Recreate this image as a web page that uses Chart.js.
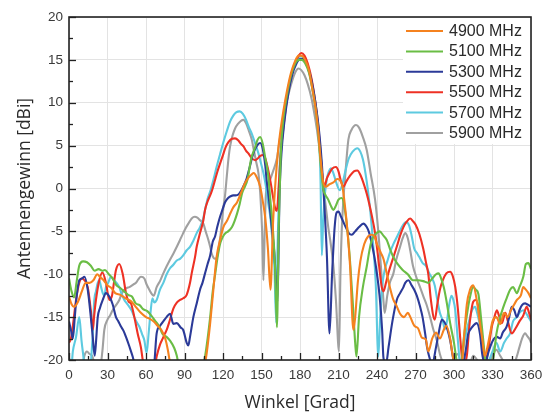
<!DOCTYPE html>
<html><head><meta charset="utf-8">
<script src="https://cdn.jsdelivr.net/npm/chart.js@4.4.1/dist/chart.umd.min.js"></script>
<style>html,body{margin:0;padding:0;background:#fff;}canvas{display:block;}</style>
</head><body>
<canvas id="c" width="552" height="417"></canvas>
<script>
// ---- data (angle [deg], gain [dBi]) ----
const seriesLabels = ['4900 MHz', '5100 MHz', '5300 MHz', '5500 MHz', '5700 MHz', '5900 MHz'];
const seriesColors = ['#f5821f', '#6abd45', '#2b3a98', '#ee3124', '#5dcae0', '#a0a0a0'];
const xTickValues = [0, 30, 60, 90, 120, 150, 180, 210, 240, 270, 300, 330, 360];
const yTickValues = [-20, -15, -10, -5, 0, 5, 10, 15, 20];

const s4900 = [[0,-12.6],[2,-13.5],[4,-13.8],[7,-13.2],[10,-12],[13,-11],[16,-11],[19,-10.7],[22,-10],[24,-10.3],[27,-10.7],[30,-11.3],[33,-11.6],[36,-12.2],[40,-12.4],[44,-12.8],[48,-13.1],[52,-13.8],[56,-14.5],[60,-15],[63,-15.2],[66,-15.5],[69,-16],[72,-16.5],[75,-17.5],[77,-18.8],[79,-20.5],[85,-22],[100,-22],[105,-21],[107.3,-19.2],[110,-15.7],[112.5,-11.8],[115,-8],[117.7,-6],[120.3,-4.5],[123,-3.8],[126,-2.8],[128,-2.2],[131,-1.6],[134,-0.5],[137,0.6],[140,1.3],[142,1.6],[144,1.8],[146,1.4],[149,0.2],[151,-1.5],[153,-3.5],[155,-7],[157,-11.8],[159,-4],[161,1],[163,4.5],[165,7],[167,9],[170,11.5],[173,13.5],[176,14.8],[179,15.5],[181,15.5],[184,15],[187,13.8],[190,11.3],[192,9.5],[194,7],[196,3.5],[198,0.8],[200,0.2],[203,0.5],[206,0.7],[209,1.1],[211,1.0],[213,0.3],[215,-2],[217,-5],[219,-9],[221.6,-16.5],[223,-15],[225,-11],[227,-8.5],[230,-6.5],[233,-5.6],[236,-5.4],[238,-5.6],[240,-6.5],[243,-7.5],[245,-8.2],[247.6,-9.9],[250,-11.5],[252.8,-13],[255,-13.6],[258,-14.6],[261,-15],[264,-14.5],[266,-15],[269,-16],[272,-16.3],[275,-17.4],[278,-17.6],[280,-19],[283,-17.5],[286,-16.8],[289,-17.5],[292,-16.5],[294,-16],[297,-17.5],[299,-19.5],[302,-21],[306,-20.5],[308,-17],[310,-13.5],[312.5,-11.8],[315,-11.3],[317.7,-13],[320,-15.5],[322,-17.5],[324,-19.5],[326,-18.5],[328,-17],[330,-15.5],[333,-15],[336,-15.8],[339,-14.5],[342,-15],[344,-14.3],[347,-13.5],[349,-13],[352,-12.5],[354,-11.5],[356,-11.8],[358,-12.2],[360,-12.8]];

const s5100 = [[0,-10.5],[2,-12],[4,-12.7],[6,-10.8],[8,-9],[11,-8.5],[14,-8.6],[17,-9],[20,-9.6],[23,-9.4],[26,-9.6],[28,-9.5],[31,-10],[34,-10.5],[37,-11.3],[40,-11.6],[43,-12],[46,-12.4],[49,-12.6],[52,-13.4],[55,-13.6],[58,-14.1],[61,-14.3],[64,-14.8],[67,-15.4],[70,-16],[73,-17],[76,-17.3],[79,-17.8],[82,-18.6],[84,-19.5],[86,-21],[95,-22],[104,-21],[106,-19.6],[108,-17.5],[110,-15],[112,-12],[114,-9.9],[116,-7.8],[118,-6.3],[120,-5.6],[122,-5.2],[124,-5],[127,-4.5],[129,-3.8],[131,-2.9],[133,-1.8],[135,-0.5],[137,0.2],[139,1],[142,3.5],[145,4.8],[147,5.7],[149,6],[151,5.2],[153,3.5],[155,1.8],[157,-1.5],[159,-5],[160.5,-9],[162,-16.2],[163.5,-4],[165,4],[167,8],[170,11],[173,13.2],[176,14.5],[179,15],[181.5,15],[184,14.6],[187,13.5],[190,11.3],[192,9.5],[194,6.8],[196,3],[198,0],[200,-0.8],[202,-1.3],[204,-2],[206,-2.5],[208,-2],[210,-1.3],[212.5,-1.1],[215,-2.5],[217,-5],[219,-8.5],[221,-13],[223,-18],[224,-19.6],[226,-15],[229,-11.5],[232,-9.1],[234,-7.3],[236,-6],[239,-5.3],[242,-5],[245,-5.5],[247.6,-6],[250,-7],[252.8,-8],[256,-8.8],[260,-9.5],[264,-10],[268,-10.7],[272,-10.7],[276,-10.8],[280,-11],[283,-10.5],[286,-10],[288,-9.9],[290,-10.5],[292,-11.5],[294,-13],[297,-15.7],[300,-18],[302,-20],[305,-21],[308,-17],[310,-14.8],[312,-13],[315,-11.5],[317,-11.8],[319,-12.3],[321,-15],[323,-18],[325,-20.5],[328,-20.5],[331,-19.5],[333,-17],[336,-15],[338.5,-13.8],[341,-12.8],[343.7,-11.8],[346,-11.5],[349,-12.2],[351,-11.5],[354,-10.3],[356,-8.8],[358,-8.7],[360,-9.4]];

const s5300 = [[0,-15.5],[1.5,-16.5],[3,-17.5],[4.5,-15],[6,-12.5],[8,-10.7],[10,-10.5],[12,-10.3],[14.6,-11.8],[17,-15],[18.5,-17.3],[20,-19.5],[21,-18],[22.4,-15],[24,-14],[26.3,-13],[28.8,-12.2],[31.4,-12.6],[34,-13.5],[36.6,-15],[38.5,-15.5],[40.5,-16.1],[42.5,-16.6],[44.4,-17.3],[47,-18.4],[49.6,-19.6],[52,-21],[60,-22],[66,-21],[68.3,-16.9],[71,-16],[73.5,-15.5],[76,-15],[78.7,-14.6],[81.3,-15.8],[84,-15.7],[87,-16.2],[89,-16.5],[91.7,-18],[93,-18.3],[94.3,-17.3],[96.9,-15],[99.5,-13.4],[102.1,-11.8],[104,-11],[106,-9.9],[108,-8.8],[110,-7.8],[112,-6.2],[113.8,-5.6],[115.5,-4.5],[117.7,-3.3],[119.5,-2.5],[121.6,-1.6],[124,-1.1],[126,-0.9],[128,-0.8],[130,-0.8],[132,-0.7],[134,-0.3],[136,0.3],[138.5,1.2],[141,2.6],[143,3.8],[145,4.6],[147,5.1],[149,5.3],[151,4.6],[153,2.6],[154,1],[156,-1.5],[158,-4.5],[160,-7.5],[162.5,-13.2],[164,-1],[165.5,4],[168,8],[171,11.2],[174,13.3],[177,14.5],[180,15.1],[182,15.1],[185,14.5],[188,13.2],[191,11],[193,9],[195,6.5],[197,3],[199,-2],[201,-8],[203,-16.9],[205,-10],[207,-4.5],[208.5,-2.8],[210,-2.7],[212,-3.3],[215,-4.3],[218,-5.2],[220.3,-5.4],[223,-5],[226,-4.5],[229.4,-4.1],[232,-4.5],[234,-5.2],[236,-6.5],[238,-8],[240,-10],[242,-12.5],[244,-16.5],[245,-19.7],[247,-20.5],[249,-18.5],[252,-15.5],[255.4,-13],[258,-12.2],[260.6,-11.5],[262,-11],[264.5,-10.7],[267,-11.3],[269,-11.8],[271,-12.5],[273.6,-13.8],[275.5,-15],[277.5,-16.9],[279,-18.5],[280.5,-19.5],[283,-20.5],[286,-18.5],[288,-16.9],[290.5,-15.3],[293,-15.7],[295,-16.5],[297,-17.7],[299,-19.5],[301,-21],[306,-21],[309,-19],[311,-17],[312.5,-16.5],[315,-16],[317.7,-15.7],[320.3,-17],[322,-19.3],[324,-20.5],[327,-19],[330,-17.8],[333.4,-17.3],[336,-17.5],[338,-16.8],[341,-16.1],[343,-15],[345,-13.8],[347,-14.2],[349,-15],[351,-14.2],[353,-13.6],[355.4,-13.4],[357,-13.5],[360,-13.8]];

const s5500 = [[0,-18],[1.5,-17.5],[3,-16],[5.5,-13],[8,-11],[10,-10.5],[12,-10.7],[14.6,-11.5],[17,-14.2],[18.5,-16.5],[19.5,-15],[21,-13],[23.6,-10.7],[26,-9.8],[28.8,-11],[31.4,-13],[33.5,-12.5],[35,-11],[36.6,-9.5],[39.2,-8.8],[41.9,-10],[44.4,-12.2],[46.5,-13.2],[48.3,-13.4],[50.9,-15],[53.5,-16.9],[56,-18.5],[58,-20.5],[62,-22],[66,-21.5],[68.3,-19.6],[70.9,-18.2],[73,-17.5],[74.8,-16.9],[76.1,-16.5],[78.7,-15.3],[81.3,-14],[84,-13.3],[86.5,-13],[89,-12.8],[91.7,-12.4],[94.3,-11],[95.6,-9.9],[98.2,-8],[99.5,-6.8],[102.1,-5.2],[104.7,-3.7],[106,-2.5],[108,-1.5],[110,-0.8],[111.5,-0.2],[113.8,1.0],[115.5,1.9],[117.7,2.9],[120,3.9],[122,4.8],[124.2,5.4],[127,5.8],[129.4,5.85],[132,5.6],[134,5.2],[136,4.9],[138,4.4],[139.8,4.1],[142,3.6],[145,3.3],[147,3.5],[149,3.8],[151.5,3.9],[153,3.5],[155,2.3],[157,0.8],[159,-1],[160.5,-2.2],[162,-2.6],[163.5,0.5],[165,4],[167,7],[170,10.5],[173,13],[176,14.6],[179,15.5],[181,15.8],[183.5,15.5],[186,14.6],[189,12.8],[192,10],[194,7.6],[196,4.2],[197.5,1.3],[199,0.3],[201,1.2],[203,1.8],[205,2.3],[208,2.5],[210,2],[212,0.8],[213.8,0.2],[216,0.8],[219,1.5],[222,2],[224.7,2.1],[227,1.6],[230,0.4],[232,-0.6],[234,-1.8],[236,-3.2],[238.5,-5.2],[240.5,-7.5],[242,-9.5],[243.7,-11.5],[245,-12],[247,-11],[249,-9.8],[252.8,-8],[256,-6.5],[258,-5.5],[260.6,-4.5],[263,-3.9],[265.8,-3.5],[268,-3.8],[270,-4.2],[273,-5.3],[276,-7],[278,-8.5],[280,-10],[282,-13],[285,-15.3],[287,-13.5],[289,-11.8],[291,-10.8],[294,-9.9],[297,-9.7],[299,-10.2],[301,-11.5],[303,-14],[305,-17.7],[307,-20.5],[310,-19.5],[312,-16],[315,-13.2],[317,-13],[319,-13.8],[321.7,-16.9],[324,-20.5],[327,-18.5],[329.5,-16.1],[331,-15.3],[333.4,-14.2],[335,-14.8],[337.3,-15.7],[340,-14.5],[342,-15.5],[345,-16.9],[348,-16.3],[351,-15.5],[354,-14.8],[356.7,-13.8],[358.5,-14.5],[360,-15.3]];

const s5700 = [[0,-19.8],[2,-20.5],[3,-19],[5.5,-17.3],[8,-15],[9.8,-17.8],[11,-19.3],[12.5,-21],[16,-21],[18.5,-17],[19.7,-13],[21,-12],[22.4,-11],[23.6,-10.7],[25,-11.5],[26.3,-12.2],[27.5,-12.5],[28.8,-11.5],[30.5,-11],[32.7,-10.3],[35.3,-10.7],[37,-11],[39.2,-11.5],[41,-12.3],[43.1,-13],[45,-13.4],[47,-13.8],[49,-14.3],[50.9,-15],[52.8,-15.6],[54.8,-16.1],[57,-17],[58.7,-17.7],[60.5,-19.2],[62,-17],[63.5,-14.5],[65,-12.8],[66.5,-13.3],[68.3,-13],[70.9,-11.8],[73.5,-11],[76.1,-10],[78.7,-9.3],[81.3,-8.9],[84,-8.4],[86.5,-8.2],[89,-7.8],[91.7,-7.2],[94.3,-6.8],[96.9,-6.1],[99.5,-5.2],[102.1,-4.5],[104.4,-3.6],[106,-2.5],[108,-1.2],[109.9,-0.4],[112.5,1.0],[115,2.5],[117.7,4.0],[120.3,5.4],[123,6.7],[125.5,7.8],[128,8.5],[130.5,8.9],[133,9.0],[135.5,8.7],[138,8.0],[140,7.2],[142.4,6.4],[145,5.3],[147.6,4.1],[149.5,3],[151.5,1.8],[153.5,0.2],[155,-1.5],[157,-3.5],[158.5,-6],[160,-9],[161.5,-15.7],[162.5,-7],[164,2],[166,6],[168,8.8],[171,11.5],[174,13.5],[177,14.8],[180,15.4],[182.5,15.3],[185,14.6],[188,13],[191,10.5],[193,8.5],[195,5.5],[196,1],[197,-7.8],[198,-4],[199.5,-0.5],[201,1.2],[202.5,2],[204,2.35],[206,1.8],[208,0.8],[211,-0.2],[213,0.5],[215,1.8],[218,3.5],[221,4.3],[224.7,4.7],[227,4.3],[229,3.4],[231,1.8],[233,-0.3],[235,-3],[237,-6.5],[239,-11],[241,-19.6],[242.5,-15],[244,-11.5],[246,-9.5],[248,-8.5],[250,-7.5],[253,-6.4],[256,-5.5],[259,-4.6],[261,-4.1],[262.7,-3.9],[265,-4.3],[267,-5.5],[269,-7],[271,-7.5],[273,-8],[275.6,-8.7],[278,-9],[280.8,-9.9],[283,-10.5],[285,-11.3],[287,-13],[289,-14.5],[291,-15.3],[293,-16.4],[294.5,-15.5],[296,-13.8],[298,-12.5],[299.5,-13],[301,-14.2],[303,-17.7],[305,-20.5],[308,-18],[310,-16.5],[312.5,-15],[314,-14.2],[316.4,-13.8],[318,-14.5],[320.3,-16.1],[322.9,-19],[325,-20.5],[328,-19.8],[330,-19],[333,-18],[336,-19],[339,-18],[341,-17.5],[343.7,-16.9],[346,-15.5],[349,-15],[351,-14.5],[354,-14.2],[356,-14.5],[358,-15],[360,-15.5]];

const s5900 = [[0,-21],[10,-21],[12,-19.5],[14,-19],[16,-19.3],[18,-19.5],[20,-20.5],[24,-21],[26,-19],[27.5,-16.5],[30,-15.3],[32,-14.8],[34,-14.2],[36.6,-13.6],[39.2,-13],[41,-12.3],[43.1,-11.8],[45,-11.6],[47,-11.5],[50,-11.2],[52.2,-11],[54,-10.6],[56.1,-10.3],[58.7,-10.5],[60.5,-11.2],[62.6,-11.8],[64.5,-12.3],[66,-12.5],[68.3,-11.5],[70.9,-10.8],[73.5,-9.9],[76,-9.1],[78.7,-8.3],[81.3,-7.6],[84,-6.8],[86.5,-6],[89,-5.2],[91,-4.6],[93,-4.1],[95.6,-3.5],[98,-3.3],[100,-3.4],[102.1,-3.7],[104.7,-4.1],[106.5,-5],[108.6,-6],[110,-6.8],[111.2,-7.6],[113.8,-8.2],[115.5,-7.9],[116.4,-7.2],[118,-5.5],[119,-4.1],[120.5,-2],[121.6,-0.8],[123,1.5],[124.5,3.8],[125.5,4.9],[127.5,6.2],[129.4,7.0],[132,7.6],[134,7.9],[136,8.0],[138,7.6],[140,6.8],[142.4,5.7],[144,4.5],[146,3],[147.6,1.8],[149,-0.5],[150.5,-5],[151.5,-10.7],[152.5,-5],[153.5,-0.5],[156,0.8],[159,2],[162,3.5],[164,5.5],[166,7.3],[168,9],[171,11],[174,12.6],[176.5,13.6],[178.7,14],[181,13.8],[183.5,13.2],[186,12.2],[189,10.5],[192,8],[194,6],[196,3.5],[198,0.5],[200,-2],[202,-4.5],[204,-6.5],[206,-9],[208,-13],[210.4,-19],[211.5,-10],[212.5,-5],[213.8,-1.3],[215.5,2],[217.7,5.7],[220,6.8],[223.7,7.4],[226,7.1],[229,6],[232,4.5],[235,1.8],[238.5,-1.3],[241,-5],[243,-9],[245,-13],[246,-14.5],[248,-12.5],[250,-11],[252.8,-9.9],[255,-8.3],[258,-6.8],[260,-5.8],[262,-5.2],[264,-5.8],[266,-7.3],[268,-9],[271,-10.5],[273,-11.3],[276.2,-12.6],[278.5,-13.5],[281.4,-15],[284,-16.5],[286.6,-17.7],[289,-19.3],[292,-20.5],[297,-21],[300,-19.8],[303,-19.3],[306,-20.5],[312,-20.5],[315,-19.5],[318,-20],[321,-21],[325,-21],[330,-19.5],[333,-18.8],[336,-19.5],[340,-20.5],[344,-21],[348,-20],[351,-18.5],[353,-17.5],[355.4,-16.9],[357,-17.2],[359.3,-17.7],[360,-18]];

const seriesData = [s4900, s5100, s5300, s5500, s5700, s5900];

// ---- plugins ----
const TEXT_COLOR = '#2a2a2a';
const framePlugin = {
  id: 'frame',
  afterDatasetsDraw(chart) {
    const {ctx, chartArea: a, scales} = chart;
    ctx.save();
    // legend box
    const lx = 403, ly = 18, lw = a.right - 1 - lx, lh = 126;
    ctx.fillStyle = '#ffffff';
    ctx.fillRect(lx, ly, lw, lh);
    ctx.font = '16px "Liberation Sans", Arial, sans-serif';
    ctx.textBaseline = 'middle';
    ctx.textAlign = 'left';
    chart.data.datasets.forEach((ds, i) => {
      const y = 31 + i * 20.4;
      ctx.strokeStyle = ds.borderColor;
      ctx.lineWidth = 2;
      ctx.beginPath(); ctx.moveTo(406, y); ctx.lineTo(443, y); ctx.stroke();
      ctx.fillStyle = TEXT_COLOR;
      ctx.fillText(ds.label, 449, y + 0.5);
    });
    // inward ticks on left and bottom axes
    ctx.strokeStyle = '#222';
    ctx.lineWidth = 1.3;
    const xs = scales.x, ys = scales.y;
    for (let v = 0; v <= 360; v += 15) {
      const px = Math.round(xs.getPixelForValue(v)) + 0.5;
      const len = (v % 30 === 0) ? 7 : 4;
      ctx.beginPath(); ctx.moveTo(px, a.bottom); ctx.lineTo(px, a.bottom - len); ctx.stroke();
    }
    for (let v = -20; v <= 20; v += 2.5) {
      const py = Math.round(ys.getPixelForValue(v)) + 0.5;
      const len = (v % 5 === 0) ? 7 : 4;
      ctx.beginPath(); ctx.moveTo(a.left, py); ctx.lineTo(a.left + len, py); ctx.stroke();
    }
    // frame
    ctx.lineWidth = 1.6;
    ctx.strokeStyle = '#222';
    ctx.strokeRect(a.left, a.top, a.right - a.left, a.bottom - a.top);
    ctx.restore();
  }
};

const datasets = seriesData.map((d, i) => ({
  label: seriesLabels[i],
  data: d.map(p => ({x: p[0], y: p[1]})),
  borderColor: seriesColors[i],
  backgroundColor: seriesColors[i],
  borderWidth: 2.1,
  pointRadius: 0,
  cubicInterpolationMode: 'monotone',
  fill: false
}));

new Chart(document.getElementById('c'), {
  type: 'line',
  data: { datasets },
  options: {
    responsive: false,
    animation: false,
    devicePixelRatio: 1,
    layout: { padding: { left: 0, right: 21, top: 17, bottom: 0 } },
    plugins: { legend: { display: false }, tooltip: { enabled: false } },
    scales: {
      x: {
        type: 'linear', min: 0, max: 360,
        afterBuildTicks(s) { s.ticks = xTickValues.map(v => ({value: v})); },
        afterFit(s) { s.height = 57; },
        grid: { color: '#e3e3e3', lineWidth: 1, drawTicks: false },
        border: { display: false },
        ticks: { padding: 7, color: '#3a3a3a', font: { family: '"Liberation Sans", Arial, sans-serif', size: 13.5 }, maxRotation: 0 },
        title: { display: true, text: 'Winkel [Grad]', color: TEXT_COLOR,
                 font: { family: '"Open Sans", sans-serif', size: 17.5 }, padding: { top: 0, bottom: 3 } }
      },
      y: {
        type: 'linear', min: -20, max: 20,
        afterBuildTicks(s) { s.ticks = yTickValues.map(v => ({value: v})); },
        afterFit(s) { s.width = 69; },
        grid: { color: '#e3e3e3', lineWidth: 1, drawTicks: false },
        border: { display: false },
        ticks: { padding: 6, color: '#3a3a3a', font: { family: '"Liberation Sans", Arial, sans-serif', size: 13.5 } },
        title: { display: true, text: 'Antennengewinn [dBi]', color: TEXT_COLOR,
                 font: { family: '"Open Sans", sans-serif', size: 17.5 }, padding: { top: 14.5, bottom: 0 } }
      }
    }
  },
  plugins: [framePlugin]
});
</script>
</body></html>
